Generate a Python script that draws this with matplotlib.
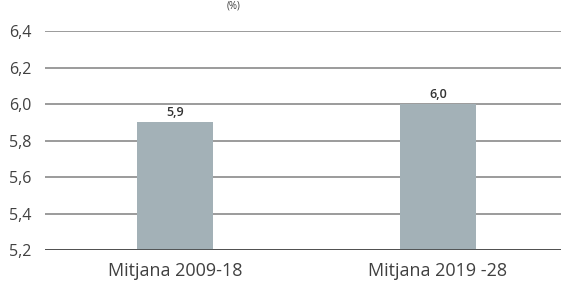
import matplotlib
matplotlib.use("Agg")
import matplotlib.pyplot as plt
from matplotlib.ticker import FuncFormatter

categories = ["Mitjana 2009-18", "Mitjana 2019 -28"]
values = [5.9, 6.0]
value_labels = ["5,9", "6,0"]
yticks = [5.2, 5.4, 5.6, 5.8, 6.0, 6.2, 6.4]

plt.rcParams['font.family'] = ['Open Sans', 'DejaVu Sans']

fig = plt.figure(figsize=(5.61, 2.85), dpi=100)
ax = fig.add_axes([45/561, 1 - 250/285, 516/561, (250-31)/285])

x = list(range(len(categories)))
ax.bar(x, values, width=0.29, color="#a3b1b7", zorder=3)
ax.set_ylim(5.2, 6.4)
ax.set_xlim(-0.494, 1.468)
ax.set_yticks(yticks)
ax.yaxis.set_major_formatter(FuncFormatter(lambda v, p: f"{v:.1f}".replace(".", ",")))
ax.set_xticks(x)
ax.set_xticklabels(categories)
ax.grid(axis="y", color="#8a8a8a", linewidth=1.2, zorder=0)
for s in ["top", "right", "left", "bottom"]:
    ax.spines[s].set_visible(False)
ax.axhline(5.2, color="#444444", linewidth=1.2, zorder=4)
ax.tick_params(axis="y", length=0, labelsize=11.5, colors="#404040", pad=10)
ax.tick_params(axis="x", length=0, labelsize=13, colors="#404040", pad=9)
for xi, v, lab in zip(x, values, value_labels):
    ax.annotate(lab, (xi, v), xytext=(0, 2), textcoords="offset points",
                ha="center", va="bottom", fontsize=9, fontweight="semibold", color="#333333")

fig.text(234/561, 1.0 - 1/285, "(%)", ha="center", va="top", fontsize=7, color="#404040")
fig.savefig("out.png", dpi=100)
